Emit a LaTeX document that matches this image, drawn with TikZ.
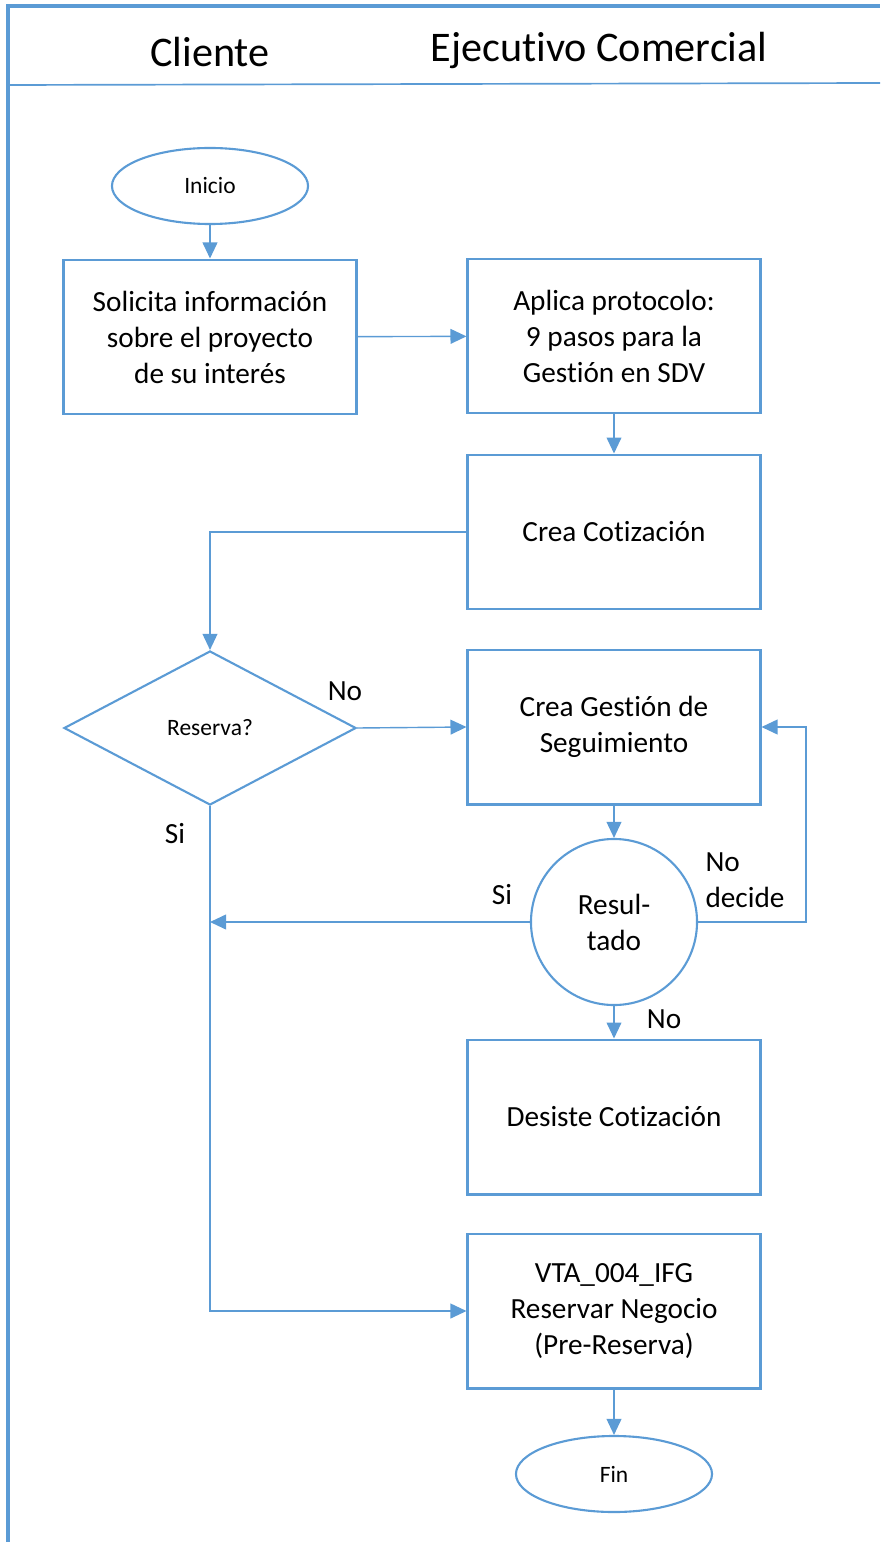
\documentclass[tikz,border=0pt]{standalone}
\usepackage{fontspec}
\setmainfont{Carlito}[Ligatures=NoCommon]
\usetikzlibrary{shapes.geometric,arrows.meta}

\definecolor{azul}{HTML}{5B9BD5}

\tikzset{
	proceso/.style={draw=azul,line width=2.1pt,minimum width=7.3cm,minimum height=3.85cm,align=center,inner sep=0pt,font=\fontsize{20.8}{25.6}\selectfont},
	inicioFin/.style={draw=azul,line width=1.5pt,ellipse,minimum width=4.9cm,minimum height=1.9cm,inner sep=0pt,font=\fontsize{16.7}{20}\selectfont},
	decision/.style={draw=azul,line width=1.5pt,diamond,aspect=1.9,minimum width=7.3cm,minimum height=3.85cm,inner sep=0pt,font=\fontsize{16.7}{20}\selectfont},
	evaluacion/.style={draw=azul,line width=1.5pt,circle,minimum size=4.15cm,inner sep=0pt,align=center,font=\fontsize{20.8}{25.6}\selectfont},
	flecha/.style={draw=azul,line width=1pt,-{Triangle[length=0.4cm,width=0.37cm]}},
	etiqueta/.style={font=\fontsize{20.8}{25.6}\selectfont,inner sep=0pt},
	titulo/.style={font=\fontsize{30}{36}\selectfont,inner sep=0pt}
}

\begin{document}
\begin{tikzpicture}[x=0.025cm,y=-0.025cm]
	\useasboundingbox (0,0) rectangle (880,1542);
	% marco y encabezado
	\draw[azul,line width=2.4pt] (8,1542) -- (8,6) -- (880,6);
	\draw[azul,line width=1.2pt] (8,85) -- (880,83);
	\node[titulo] (cliente) at (210,52) {Cliente};
	\node[titulo] (ejecutivo) at (599,50) {Ejecutivo Comercial};
	
	% Cliente
	\node[inicioFin] (inicio) at (210,186) {Inicio};
	\node[proceso] (solicita) at (210,337) {Solicita información\\sobre el proyecto\\de su interés};
	\node[decision] (reserva) at (210,728) {Reserva?};
	
	% Ejecutivo Comercial
	\node[proceso] (aplica) at (614,336) {Aplica protocolo:\\9 pasos para la\\Gestión en SDV};
	\node[proceso] (cotizacion) at (614,532) {Crea Cotización};
	\node[proceso] (gestion) at (614,727) {Crea Gestión de\\Seguimiento};
	\node[evaluacion] (resultado) at (614,922) {Resul-\\tado};
	\node[proceso] (desiste) at (614,1117) {Desiste Cotización};
	\node[proceso] (vta) at (614,1311) {VTA\_004\_IFG\\Reservar Negocio\\(Pre-Reserva)};
	\node[inicioFin] (fin) at (614,1474) {Fin};
	
	% puntos de union
	\coordinate (juntaSi) at (210,922);
	\coordinate (retorno) at (806,922);
	
	% conectores
	\draw[flecha] (inicio) -- (solicita);
	\draw[flecha] (solicita) -- (aplica);
	\draw[flecha] (aplica) -- (cotizacion);
	\draw[flecha] (cotizacion.west) -| (reserva.north);
	\draw[flecha] (reserva.east) -- (gestion.west);
	\draw[flecha] (reserva.south) |- (vta.west);
	\draw[flecha] (gestion) -- (resultado);
	\draw[flecha] (resultado.west) -- (juntaSi);
	\draw[flecha] (resultado.east) -- (retorno) |- (gestion.east);
	\draw[flecha] (resultado) -- (desiste);
	\draw[flecha] (vta) -- (fin);
	
	% etiquetas
	\node[etiqueta] (noReserva) at (345,691) {No};
	\node[etiqueta] (siReserva) at (175,834) {Si};
	\node[etiqueta] (siResultado) at (502,895) {Si};
	\node[etiqueta,align=left] (noDecide) at (745,880) {No\\decide};
	\node[etiqueta] (noResultado) at (664,1019) {No};
	
\end{tikzpicture}
\end{document}
